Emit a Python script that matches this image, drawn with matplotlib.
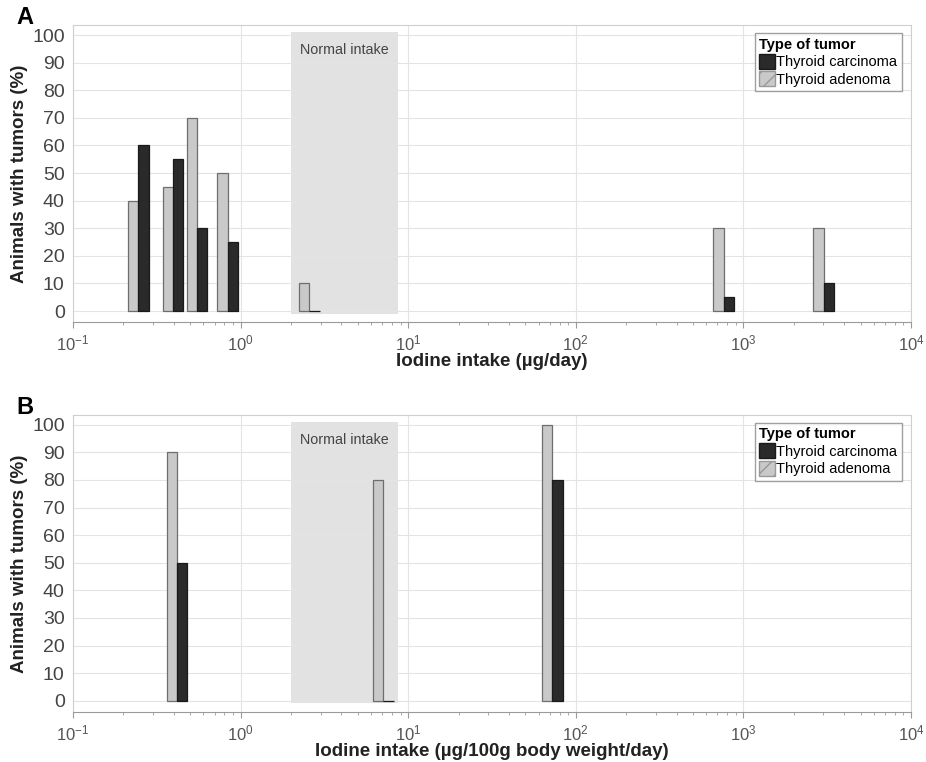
import numpy as np
import matplotlib
matplotlib.use('Agg')
import matplotlib.pyplot as plt
from matplotlib.patches import Patch

plt.rcParams['font.family'] = ['Liberation Sans', 'DejaVu Sans']

# Panel A: intake in ug/day
dose_a = [0.245, 0.395, 0.55, 0.84, 2.57, 764, 3006]
adenoma_a = [40, 45, 70, 50, 10, 30, 30]
carcinoma_a = [60, 55, 30, 25, 0, 5, 10]

# Panel B: intake in ug/100g body weight/day
dose_b = [0.418, 7.1, 72.4]
adenoma_b = [90, 80, 100]
carcinoma_b = [50, 0, 80]

normal_range = (2.0, 8.7)
y_ticks = list(range(0, 101, 10))

LIGHT = '#c9c9c9'
DARK = '#2a2a2a'
EDGE = '#6e6e6e'
BAR_W = 0.062  # decades

fig = plt.figure(figsize=(9.26, 7.62), dpi=100)
ax_a = fig.add_axes([0.0788, 0.577, 0.905, 0.39])
ax_b = fig.add_axes([0.0788, 0.0656, 0.905, 0.39])


def draw_panel(ax, dose, aden, carc, xlabel, tag):
    dose = np.array(dose)
    lo = dose * 10 ** (-BAR_W)
    hi = dose * 10 ** BAR_W
    ax.fill_between(normal_range, -1, 101, color='#e2e2e2', zorder=0, lw=0)
    ax.text(np.sqrt(normal_range[0] * normal_range[1]), 94.5, 'Normal intake',
            ha='center', va='center', fontsize=10.3, color='#444444', zorder=1)
    ax.bar(lo, aden, width=dose - lo, align='edge', color=LIGHT,
           edgecolor=EDGE, linewidth=0.9, zorder=3)
    ax.bar(dose, carc, width=hi - dose, align='edge', color=DARK,
           edgecolor='#1a1a1a', linewidth=0.9, zorder=3)

    ax.set_xscale('log')
    ax.set_xlim(0.1, 10000)
    ax.set_ylim(-4.1, 103.6)
    ax.set_yticks(y_ticks)
    ax.grid(True, which='major', color='#e4e4e4', linewidth=0.8, zorder=0)
    ax.set_axisbelow(True)
    for s in ['top', 'right', 'left']:
        ax.spines[s].set_color('#cfcfcf')
    ax.spines['bottom'].set_color('#9a9a9a')
    ax.tick_params(axis='y', length=0, labelsize=14, labelcolor='#444444', pad=6)
    ax.tick_params(axis='x', which='major', length=4, color='#9a9a9a',
                   labelsize=12, labelcolor='#555555', pad=4)
    ax.tick_params(axis='x', which='minor', length=2, color='#9a9a9a')
    ax.set_xlabel(xlabel, fontsize=13.5, fontweight='bold', color='#222222', labelpad=0)
    ax.set_ylabel('Animals with tumors (%)', fontsize=13.5, fontweight='bold',
                  color='#222222', labelpad=3)
    ax.text(-0.067, 0.987, tag, transform=ax.transAxes, fontsize=17,
            fontweight='bold', ha='left', va='bottom')

    handles = [Patch(facecolor=DARK, edgecolor='#1a1a1a', label='Thyroid carcinoma'),
               Patch(facecolor=LIGHT, edgecolor='#999999', hatch='//',
                     label='Thyroid adenoma')]
    leg = ax.legend(handles=handles, title='Type of tumor', loc='upper right',
                    fontsize=10.5, title_fontsize=10.5, frameon=True, fancybox=False,
                    edgecolor='#888888', handlelength=1.1, handleheight=1.2,
                    handletextpad=0.1, borderpad=0.3, labelspacing=0.15,
                    borderaxespad=0, bbox_to_anchor=(0.989, 0.973))
    leg.get_title().set_fontweight('bold')
    leg._legend_box.align = 'left'


draw_panel(ax_a, dose_a, adenoma_a, carcinoma_a, 'Iodine intake (µg/day)', 'A')
draw_panel(ax_b, dose_b, adenoma_b, carcinoma_b,
           'Iodine intake (µg/100g body weight/day)', 'B')

fig.savefig('out.png', dpi=100)
